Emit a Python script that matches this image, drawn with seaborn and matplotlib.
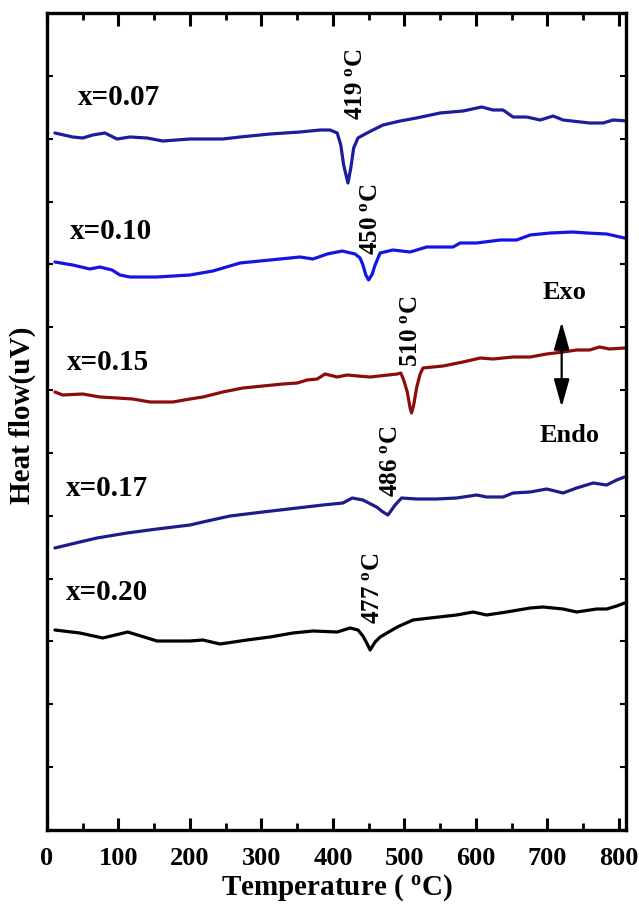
import numpy as np
import pandas as pd
import matplotlib
matplotlib.use("Agg")
import matplotlib.pyplot as plt
import seaborn as sns
from matplotlib.ticker import MultipleLocator

# ---------------- data (temperature in degC, heat flow in arbitrary offset units) ----------------
temp_007 = [11, 36, 50, 64, 81, 98, 116, 140, 162, 200, 246, 270, 312, 354, 382, 396, 406, 411, 415,
            421, 425, 429, 435, 445, 456, 470, 494, 517, 550, 582, 608, 624, 638, 652, 671, 690, 708,
            722, 759, 778, 792, 813]
flow_007 = [697, 693, 692, 695, 697, 691, 693, 692, 689, 691, 691, 693, 696, 698, 700, 700, 697, 685, 665,
            647, 662, 682, 692, 696, 700, 705, 709, 712, 717, 719, 723, 720, 720, 713, 713, 710, 714,
            710, 707, 707, 710, 709]

temp_010 = [11, 36, 60, 74, 91, 102, 116, 154, 200, 232, 270, 312, 354, 372, 392, 413, 431, 438, 442,
            446, 450, 455, 459, 466, 484, 508, 531, 554, 568, 578, 601, 634, 657, 676, 704, 736, 755,
            783, 808]
flow_010 = [568, 565, 561, 563, 560, 555, 553, 553, 555, 559, 567, 570, 573, 571, 576, 579, 576, 572, 565,
            555, 550, 556, 565, 577, 580, 578, 583, 583, 583, 587, 587, 590, 590, 595, 597, 598, 597,
            596, 592]

temp_015 = [11, 22, 50, 74, 98, 120, 144, 176, 200, 218, 246, 274, 302, 330, 350, 364, 378, 389, 406,
            420, 435, 452, 490, 495, 499, 504, 508, 510, 513, 517, 522, 526, 554, 582, 606, 624, 652,
            676, 699, 722, 741, 759, 773, 787, 808]
flow_015 = [438, 435, 436, 433, 432, 431, 428, 428, 431, 433, 438, 442, 444, 446, 447, 450, 451, 456, 453,
            455, 454, 453, 456, 457, 450, 438, 422, 417, 425, 442, 456, 462, 464, 468, 472, 471, 473,
            473, 476, 478, 480, 480, 483, 481, 482]

temp_017 = [11, 46, 70, 112, 154, 200, 218, 256, 302, 350, 386, 414, 427, 442, 461, 470, 477, 482, 487,
            496, 517, 545, 573, 601, 615, 638, 652, 676, 699, 722, 741, 764, 783, 797, 808]
flow_017 = [282, 288, 292, 297, 301, 305, 308, 314, 318, 322, 325, 327, 332, 330, 323, 318, 315, 320, 325,
            332, 331, 331, 332, 335, 333, 333, 337, 338, 341, 337, 342, 347, 345, 350, 353]

temp_020 = [11, 46, 78, 113, 154, 200, 218, 242, 280, 312, 344, 372, 406, 424, 435, 442, 448, 452, 459,
            466, 490, 512, 536, 573, 596, 615, 643, 676, 694, 722, 741, 769, 783, 797, 808]
flow_020 = [200, 197, 192, 198, 189, 189, 190, 186, 190, 193, 197, 199, 198, 202, 200, 194, 186, 180, 188,
            193, 203, 210, 212, 215, 218, 215, 218, 222, 223, 221, 218, 221, 221, 224, 227]

samples = ["x=0.07", "x=0.10", "x=0.15", "x=0.17", "x=0.20"]
peak_labels = ["419 $^{\\mathrm{o}}$C", "450 $^{\\mathrm{o}}$C", "510 $^{\\mathrm{o}}$C",
               "486 $^{\\mathrm{o}}$C", "477 $^{\\mathrm{o}}$C"]
colors = ["#1c1c9c", "#1414e4", "#8c0c0c", "#1c1c8a", "#000000"]

temps = [temp_007, temp_010, temp_015, temp_017, temp_020]
flows = [flow_007, flow_010, flow_015, flow_017, flow_020]

df = pd.concat(
    [pd.DataFrame({"Temperature": t, "Heat flow": f, "sample": s}) for t, f, s in zip(temps, flows, samples)],
    ignore_index=True,
)

# ---------------- style ----------------
sns.set_theme(style="ticks")
plt.rcParams["font.family"] = ["Liberation Serif", "DejaVu Serif"]
plt.rcParams["font.weight"] = "bold"
plt.rcParams["text.color"] = "black"
plt.rcParams["axes.labelcolor"] = "black"
plt.rcParams["xtick.color"] = "black"
plt.rcParams["ytick.color"] = "black"
plt.rcParams["mathtext.fontset"] = "custom"
plt.rcParams["mathtext.rm"] = "Liberation Serif:bold"
plt.rcParams["mathtext.it"] = "Liberation Serif:bold"
plt.rcParams["mathtext.bf"] = "Liberation Serif:bold"

W, H = 639, 908
fig = plt.figure(figsize=(W / 100, H / 100), dpi=100)
L, R, T, B = 47, 626, 13, 830
ax = fig.add_axes([L / W, (H - B) / H, (R - L) / W, (B - T) / H])

sns.lineplot(data=df, x="Temperature", y="Heat flow", hue="sample",
             palette=dict(zip(samples, colors)), estimator=None, sort=False,
             linewidth=2.3, legend=False, ax=ax)
for ln in ax.get_lines():
    ln.set_solid_joinstyle("round")
    ln.set_solid_capstyle("round")

ax.set_xlim(0, 810)
ax.set_ylim(0, B - T)
ax.set_xlabel("")
ax.set_ylabel("")

ax.xaxis.set_major_locator(MultipleLocator(100))
ax.xaxis.set_minor_locator(MultipleLocator(50))
ax.set_yticks(np.arange(0, B - T, (B - T) / 13.0))

for sp in ax.spines.values():
    sp.set_linewidth(2.4)
    sp.set_color("black")

ax.tick_params(axis="x", which="major", direction="in", length=9, width=2.2,
               top=True, bottom=True, labelsize=19, pad=12, colors="black")
ax.tick_params(axis="x", which="minor", direction="in", length=5, width=2.0,
               top=True, bottom=True, colors="black")
ax.tick_params(axis="y", which="major", direction="in", length=4, width=1.5,
               left=True, right=True, labelleft=False, colors="black")
for lab in ax.get_xticklabels():
    lab.set_fontweight("bold")
    lab.set_color("black")

# sample labels
label_pos = [(101, 733), (90, 599), (85, 468), (84, 342), (84, 237)]
for s, (tx, ty) in zip(samples, label_pos):
    ax.text(tx, ty, s, ha="center", va="center", fontsize=21, fontweight="bold", color="black")

# peak labels
peak_pos = [(431, 746), (453, 611), (508, 499), (480, 369), (456, 242)]
for s, (tx, ty) in zip(peak_labels, peak_pos):
    ax.text(tx, ty, s, ha="center", va="center", rotation=90, fontsize=18, fontweight="bold",
            color="black")

# Exo / Endo arrow
ax.text(724, 538, "Exo", ha="center", va="center", fontsize=19, fontweight="bold", color="black")
ax.text(731, 395, "Endo", ha="center", va="center", fontsize=19, fontweight="bold", color="black")
ax.annotate("", xy=(720, 423), xytext=(720, 508),
            arrowprops=dict(arrowstyle="<|-|>,head_length=1.0,head_width=0.28",
                            color="black", lw=1.6, mutation_scale=17,
                            shrinkA=0, shrinkB=0))

fig.text(337 / W, 1 - 888 / H, "Temperature ( $^{\\mathrm{o}}$C)", ha="center", va="center",
         fontsize=21, fontweight="bold", color="black")
fig.text(22 / W, 1 - 415 / H, "Heat flow(uV)", ha="center", va="center", rotation=90,
         fontsize=21, fontweight="bold", color="black")

fig.savefig("out.png", dpi=100)
